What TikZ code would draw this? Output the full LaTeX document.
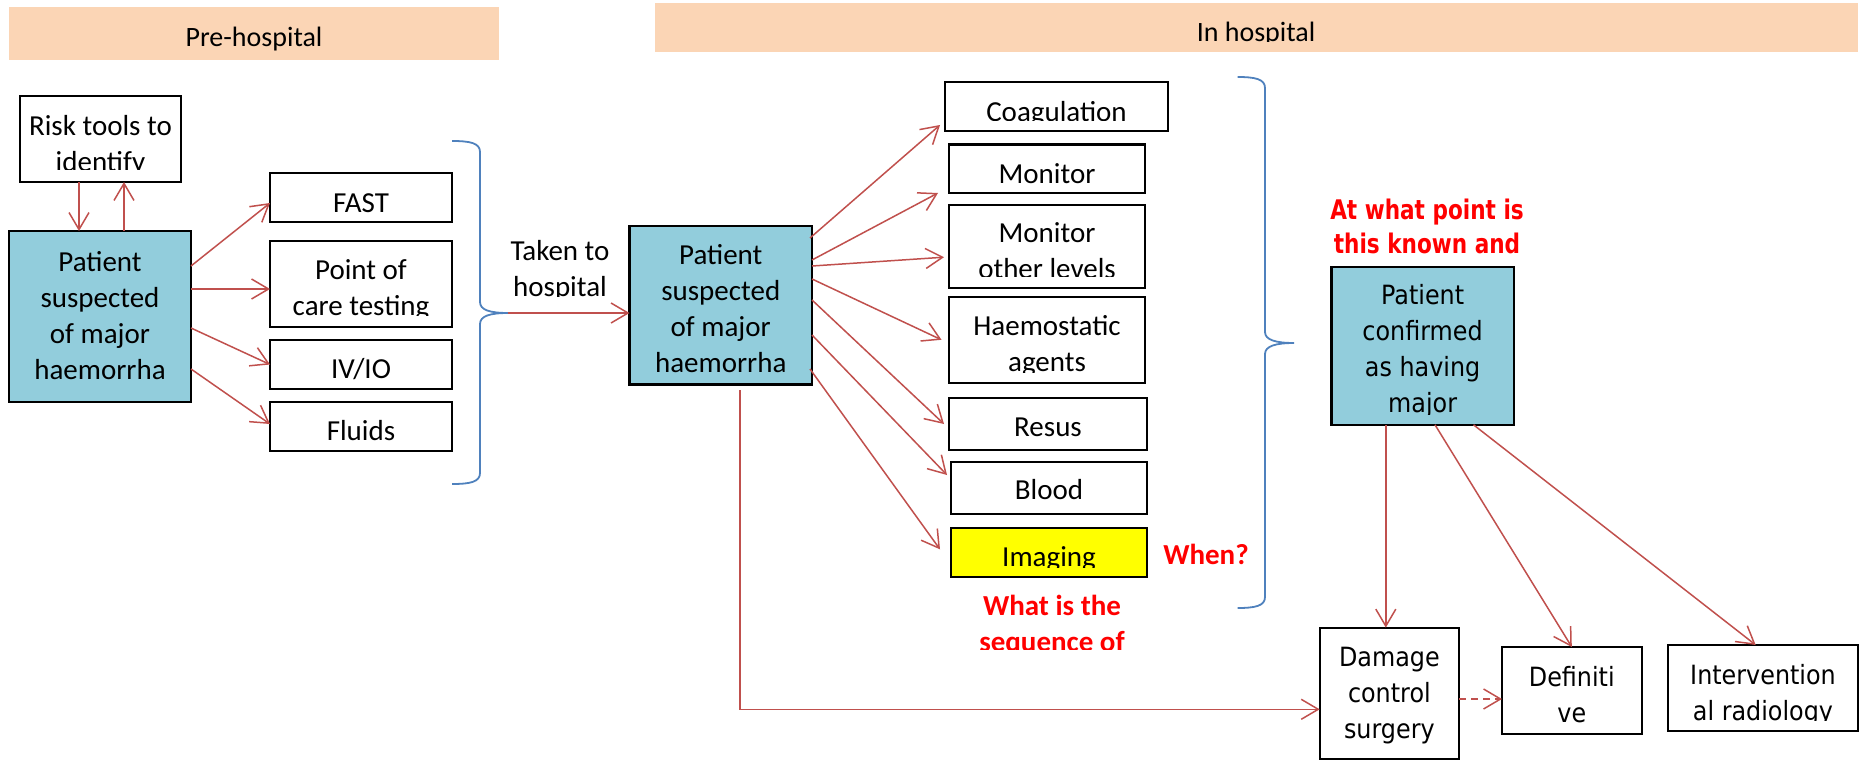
\documentclass[tikz,border=0pt]{standalone}
\usepackage{fontspec}
\setmainfont{Carlito}
\newfontfamily\dvs[FakeStretch=0.9]{DejaVu Sans}
\newfontfamily\dvsb[FakeStretch=0.8]{DejaVu Sans}
\usetikzlibrary{arrows.meta,calc}
\definecolor{peach}{HTML}{FBD5B5}
\definecolor{aqua}{HTML}{92CDDC}
\definecolor{arrred}{HTML}{C0504D}
\definecolor{brblue}{HTML}{4F81BD}
\definecolor{qred}{HTML}{FF0000}
\definecolor{hiyel}{HTML}{FFFF00}
\begin{document}
\begin{tikzpicture}[x=1pt,y=-1pt,
  bx/.style={draw=black,line width=2.2pt,fill=white,inner sep=0pt,outer sep=0pt},
  blu/.style={bx,fill=aqua},
  band/.style={fill=peach,draw=none,inner sep=0pt,outer sep=0pt},
  cal/.style={font=\fontsize{29}{36}\selectfont,align=center,inner sep=0pt},
  bandtxt/.style={font=\fontsize{28}{36}\selectfont,align=center,inner sep=0pt},
  dv/.style={font=\dvs\fontsize{26.5}{36}\selectfont,align=center,inner sep=0pt},
  q/.style={font=\fontsize{29}{36}\selectfont\bfseries,text=qred,align=center,inner sep=0pt},
  qdv/.style={font=\dvsb\bfseries\fontsize{27}{34}\selectfont,text=qred,align=center,inner sep=0pt},
  arr/.style={draw=arrred,line width=1.5pt,-{Straight Barb[length=17pt,width=20pt]}},
  brace/.style={draw=brblue,line width=1.8pt},
]
\useasboundingbox (0,0) rectangle (1867,762);

% bands
\node[band,minimum width=490pt,minimum height=53pt] (pre) at (254,33.5) {};
\node[bandtxt] (pre-t) at (254,39) {\strut Pre-hospital\strut};
\node[band,minimum width=1203pt,minimum height=48.7pt] (inh) at (1256.5,27.35) {};
\begin{scope}
  \clip (inh.north west) rectangle ([yshift=9.7pt]inh.south east);
  \node[bandtxt] (inh-t) at (1256,34.3) {\strut In hospital\strut};
\end{scope}

% pre-hospital boxes
\node[bx,minimum width=161pt,minimum height=86pt] (risk) at (100.5,139) {};
\begin{scope}
  \clip (risk.north west) rectangle ([yshift=12pt]risk.south east);
  \node[cal] (risk-t) at (100.5,146.5) {\strut Risk tools to\\identify\strut};
\end{scope}
\node[blu,minimum width=182pt,minimum height=171pt] (p1) at (100,316.5) {};
\node[cal] (p1-t) at (100,318) {\strut Patient\\suspected\\of major\\haemorrha\strut};

\node[bx,minimum width=182pt,minimum height=49pt] (fast) at (361,197.5) {};
\node[cal] (fast-t) at (361,205) {\strut FAST\strut};
\node[bx,minimum width=182pt,minimum height=86pt] (poc) at (361,284) {};
\begin{scope}
  \clip (poc.north west) rectangle ([yshift=12pt]poc.south east);
  \node[cal] (poc-t) at (361,290) {\strut Point of\\care testing\strut};
\end{scope}
\node[bx,minimum width=182pt,minimum height=49pt] (ivio) at (361,364.5) {};
\node[cal] (ivio-t) at (361,371) {\strut IV/IO\strut};
\node[bx,minimum width=182pt,minimum height=49pt] (fluids) at (361,426.5) {};
\node[cal] (fluids-t) at (361,433) {\strut Fluids\strut};

% brace 1
\draw[brace] (452,141) .. controls (470,141) and (480,143) .. (480,152) -- (480,302)
  .. controls (480,310) and (490,313) .. (508,313)
  .. controls (490,313) and (480,316) .. (480,324) -- (480,473)
  .. controls (480,482) and (470,484) .. (452,484);
\coordinate (b1tip) at (508,313);

\begin{scope}
  \clip (505,230) rectangle (625,296);
  \node[cal] (taken-t) at (560,271.5) {\strut Taken to\\hospital\strut};
\end{scope}

% in hospital
\node[blu,minimum width=182.5pt,minimum height=158.5pt] (p2) at (720.75,305.25) {};
\node[cal] (p2-t) at (720.75,311) {\strut Patient\\suspected\\of major\\haemorrha\strut};

\node[bx,minimum width=223pt,minimum height=49pt] (coag) at (1056.5,106.5) {};
\begin{scope}
  \clip (coag.north west) rectangle ([yshift=10pt]coag.south east);
  \node[cal] (coag-t) at (1056.5,114) {\strut Coagulation\strut};
\end{scope}
\node[bx,minimum width=196pt,minimum height=48.4pt] (mon) at (1047,168.8) {};
\node[cal] (mon-t) at (1047,176) {\strut Monitor\strut};
\node[bx,minimum width=196pt,minimum height=83pt] (monother) at (1047,246.2) {};
\begin{scope}
  \clip (monother.north west) rectangle ([yshift=11.7pt]monother.south east);
  \node[cal] (monother-t) at (1047,253) {\strut Monitor\\other levels\strut};
\end{scope}
\node[bx,minimum width=196pt,minimum height=85.6pt] (haem) at (1047,339.8) {};
\begin{scope}
  \clip (haem.north west) rectangle ([yshift=10.6pt]haem.south east);
  \node[cal] (haem-t) at (1047,346.5) {\strut Haemostatic\\agents\strut};
\end{scope}
\node[bx,minimum width=198pt,minimum height=52pt] (resus) at (1048,424) {};
\node[cal] (resus-t) at (1048,429) {\strut Resus\strut};
\node[bx,minimum width=196pt,minimum height=52pt] (blood) at (1049,488) {};
\node[cal] (blood-t) at (1049,492.5) {\strut Blood\strut};
\node[bx,fill=hiyel,minimum width=196pt,minimum height=49.3pt] (imaging) at (1049,552.35) {};
\begin{scope}
  \clip (imaging.north west) rectangle ([yshift=10pt]imaging.south east);
  \node[cal] (imaging-t) at (1049,559) {\strut Imaging\strut};
\end{scope}
\node[q] (when) at (1206,557) {\strut When?\strut};
\begin{scope}
  \clip (980,590) rectangle (1125,649);
  \node[q] (seq) at (1052,626.5) {\strut What is the\\sequence of\strut};
\end{scope}

% brace 2
\draw[brace] (1237.5,77) .. controls (1255,77) and (1265,79) .. (1265,88) -- (1265,332)
  .. controls (1265,340) and (1276,343) .. (1294,343)
  .. controls (1276,343) and (1265,346) .. (1265,354) -- (1265,597)
  .. controls (1265,606) and (1255,608) .. (1237.5,608);

% confirmed
\node[qdv] (atwhat) at (1427,229.7) {\strut At what point is\\this known and\strut};
\node[blu,minimum width=182.2pt,minimum height=158pt] (conf) at (1422.6,345.8) {};
\begin{scope}
  \clip (conf.north west) rectangle ([yshift=10.8pt]conf.south east);
  \node[dv] (conf-t) at (1422.6,351.5) {\strut Patient\\confirmed\\as having\\major\strut};
\end{scope}
\node[bx,minimum width=139.3pt,minimum height=131.4pt] (dmg) at (1389.35,693.3) {};
\node[dv] (dmg-t) at (1389.35,695.5) {\strut Damage\\control\\surgery\strut};
\node[bx,minimum width=139.6pt,minimum height=86.7pt] (def) at (1571.8,690.35) {};
\node[dv] (def-t) at (1571.8,697) {\strut Definiti\\ve\strut};
\node[bx,minimum width=190pt,minimum height=86pt] (ir) at (1763,688) {};
\begin{scope}
  \clip (ir.north west) rectangle ([yshift=11pt]ir.south east);
  \node[dv] (ir-t) at (1763,695) {\strut Intervention\\al radiology\strut};
\end{scope}

% connectors
\draw[arr] ([xshift=-21.5pt]risk.south) -- ([xshift=-21pt]p1.north);
\draw[arr] ([xshift=24pt]p1.north) -- ([xshift=23.5pt]risk.south);
\draw[arr] ([yshift=-35pt]p1.north east) -- ([yshift=-5.5pt]fast.west);
\draw[arr] ([yshift=-58pt]p1.north east) -- ([yshift=-5pt]poc.west);
\draw[arr] ([yshift=-97pt]p1.north east) -- (ivio.west);
\draw[arr] ([yshift=-138pt]p1.north east) -- ([yshift=2.5pt]fluids.west);
\draw[arr] (b1tip) -- (b1tip -| p2.west);

\draw[arr] ([xshift=-2pt,yshift=-12pt]p2.north east) -- ([xshift=-5pt,yshift=-18.5pt]coag.west);
\draw[arr] ([yshift=-34pt]p2.north east) -- ([xshift=-11pt]mon.south west);
\draw[arr] ([yshift=-40pt]p2.north east) -- ([xshift=-5pt,yshift=-11pt]monother.west);
\draw[arr] ([yshift=-53pt]p2.north east) -- ([xshift=-7.5pt]haem.west);
\draw[arr] ([yshift=-74pt]p2.north east) -- ([xshift=-5pt]resus.west);
\draw[arr] ([yshift=-109pt]p2.north east) -- ([xshift=-4pt,yshift=13pt]blood.west);
\draw[arr] ([xshift=-2pt,yshift=-143pt]p2.north east) -- ([xshift=-11pt,yshift=3pt]imaging.west);
\draw[arr] ([xshift=19.25pt,yshift=-5.5pt]p2.south) |- ([yshift=-16pt]dmg.west);

\coordinate (cs1) at ([xshift=-36.8pt]conf.south);
\draw[arr] (cs1) -- (cs1 |- dmg.north);
\draw[arr] ([xshift=12.4pt]conf.south) -- (def.north);
\draw[arr] ([xshift=50.9pt]conf.south) -- ([xshift=-7.3pt]ir.north);
\coordinate (dd) at ([yshift=-5.7pt]dmg.east);
\draw[arr,dash pattern=on 7pt off 5pt] (dd) -- (dd -| def.west);
\end{tikzpicture}
\end{document}
